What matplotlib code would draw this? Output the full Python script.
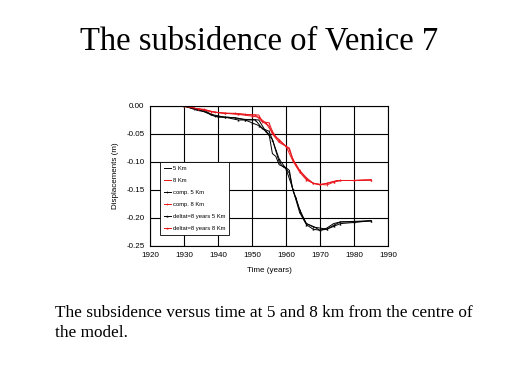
import matplotlib.pyplot as plt

yr_5 = [1930, 1932, 1934, 1936, 1938, 1940, 1943, 1946, 1948, 1950, 1952, 1954, 1955,
        1956, 1957, 1958, 1960, 1961, 1962, 1964, 1966, 1968, 1970, 1972, 1974, 1976, 1980, 1985]
d_5 = [0.0, -0.004, -0.008, -0.010, -0.016, -0.020, -0.020, -0.022, -0.024, -0.024, -0.025, -0.045, -0.050,
       -0.085, -0.090, -0.105, -0.110, -0.115, -0.150, -0.185, -0.210, -0.215, -0.222, -0.218, -0.210, -0.207, -0.207, -0.205]

yr_c5 = [1930, 1933, 1936, 1939, 1942, 1945, 1948, 1951, 1953, 1955, 1956, 1957, 1958, 1959,
         1960, 1961, 1962, 1963, 1964, 1965, 1966, 1968, 1970, 1972, 1974, 1976, 1980, 1985]
d_c5 = [0.0, -0.005, -0.008, -0.018, -0.020, -0.021, -0.025, -0.025, -0.040, -0.045, -0.060, -0.080, -0.100, -0.108,
        -0.112, -0.120, -0.150, -0.165, -0.185, -0.200, -0.210, -0.216, -0.218, -0.220, -0.213, -0.207, -0.206, -0.205]

yr_t5 = [1930, 1934, 1938, 1942, 1946, 1948, 1950, 1952, 1954, 1956, 1958, 1960, 1962,
         1964, 1966, 1968, 1970, 1972, 1974, 1976, 1980, 1985]
d_t5 = [0.0, -0.006, -0.015, -0.020, -0.025, -0.025, -0.030, -0.035, -0.045, -0.060, -0.095, -0.112, -0.148,
        -0.190, -0.212, -0.220, -0.222, -0.220, -0.215, -0.210, -0.208, -0.205]

yr_8 = [1930, 1932, 1935, 1938, 1940, 1943, 1946, 1948, 1950, 1952, 1953, 1955, 1956,
        1958, 1960, 1961, 1962, 1964, 1966, 1968, 1970, 1972, 1975, 1980, 1985]
d_8 = [0.0, -0.003, -0.006, -0.010, -0.012, -0.013, -0.014, -0.015, -0.016, -0.016, -0.028, -0.035, -0.050,
       -0.065, -0.072, -0.075, -0.095, -0.115, -0.130, -0.138, -0.141, -0.138, -0.133, -0.133, -0.132]

yr_c8 = [1930, 1933, 1936, 1939, 1942, 1945, 1948, 1951, 1953, 1955, 1956, 1957, 1958, 1960,
         1961, 1962, 1963, 1964, 1966, 1968, 1970, 1972, 1974, 1976, 1980, 1985]
d_c8 = [0.0, -0.004, -0.006, -0.011, -0.013, -0.013, -0.015, -0.016, -0.028, -0.030, -0.045, -0.055, -0.060, -0.072,
        -0.078, -0.095, -0.105, -0.115, -0.128, -0.138, -0.140, -0.141, -0.136, -0.133, -0.133, -0.132]

yr_t8 = [1930, 1934, 1938, 1942, 1946, 1950, 1952, 1954, 1956, 1958, 1960, 1962, 1964,
         1966, 1968, 1970, 1972, 1974, 1976, 1980, 1985]
d_t8 = [0.0, -0.005, -0.010, -0.013, -0.015, -0.018, -0.020, -0.030, -0.048, -0.062, -0.072, -0.098, -0.118,
        -0.132, -0.138, -0.140, -0.138, -0.135, -0.133, -0.133, -0.132]

labels = ["5 Km", "8 Km", "comp. 5 Km", "comp. 8 Km",
          "deltat=8 years 5 Km", "deltat=8 years 8 Km"]
x_ticks = [1920, 1930, 1940, 1950, 1960, 1970, 1980, 1990]
y_ticks = [0.0, -0.05, -0.10, -0.15, -0.20, -0.25]

RED = "#e8151b"
W, H = 519, 389

fig = plt.figure(figsize=(W / 100, H / 100), dpi=100)
fig.text(0.5, 1 - 50 / H, "The subsidence of Venice 7", ha="center", va="baseline",
         family="Liberation Serif", fontsize=23.5)

ax = fig.add_axes([150 / W, 1 - 246 / H, 238 / W, 140 / H])
lw = 0.7
ax.plot(yr_5, d_5, color="black", lw=lw, label=labels[0])
ax.plot(yr_8, d_8, color=RED, lw=lw, label=labels[1])
ax.plot(yr_c5, d_c5, color="black", lw=lw, marker="|", ms=1.8, mew=0.5, label=labels[2])
ax.plot(yr_c8, d_c8, color=RED, lw=lw, marker="|", ms=1.8, mew=0.5, label=labels[3])
ax.plot(yr_t5, d_t5, color="black", lw=lw, marker="^", ms=1.0, mew=0.4, label=labels[4])
ax.plot(yr_t8, d_t8, color=RED, lw=lw, marker="^", ms=1.0, mew=0.4, label=labels[5])

ax.set_xlim(1920, 1990)
ax.set_ylim(-0.25, 0.0)
ax.set_xticks(x_ticks)
ax.set_yticks(y_ticks)
ax.set_yticklabels([f"{v:.2f}" for v in y_ticks])
ax.grid(True, color="black", lw=0.8)
ax.tick_params(length=0, labelsize=5.8, pad=4)
for lab in ax.get_xticklabels() + ax.get_yticklabels():
    lab.set_family("Liberation Sans")
for s in ax.spines.values():
    s.set_linewidth(0.8)
ax.set_xlabel("Time (years)", fontsize=5.8, family="Liberation Sans", labelpad=6)
ax.set_ylabel("Displacements (m)", fontsize=5.8, family="Liberation Sans", labelpad=5)

leg = ax.legend(loc="lower left", bbox_to_anchor=(0.03, 0.06),
                prop={"family": "Liberation Sans", "size": 4.2},
                handlelength=1.3, handletextpad=0.3, labelspacing=1.2,
                fancybox=False, framealpha=1, edgecolor="black", borderpad=0.6)
leg.get_frame().set_linewidth(0.6)

caption = ["The subsidence versus time at 5 and 8 km from the centre of", "the model."]
for i, line in enumerate(caption):
    fig.text(55 / W, 1 - (317 + 20 * i) / H, line, ha="left", va="baseline",
             family="Liberation Serif", fontsize=12.4)

fig.savefig("out.png", dpi=100)
